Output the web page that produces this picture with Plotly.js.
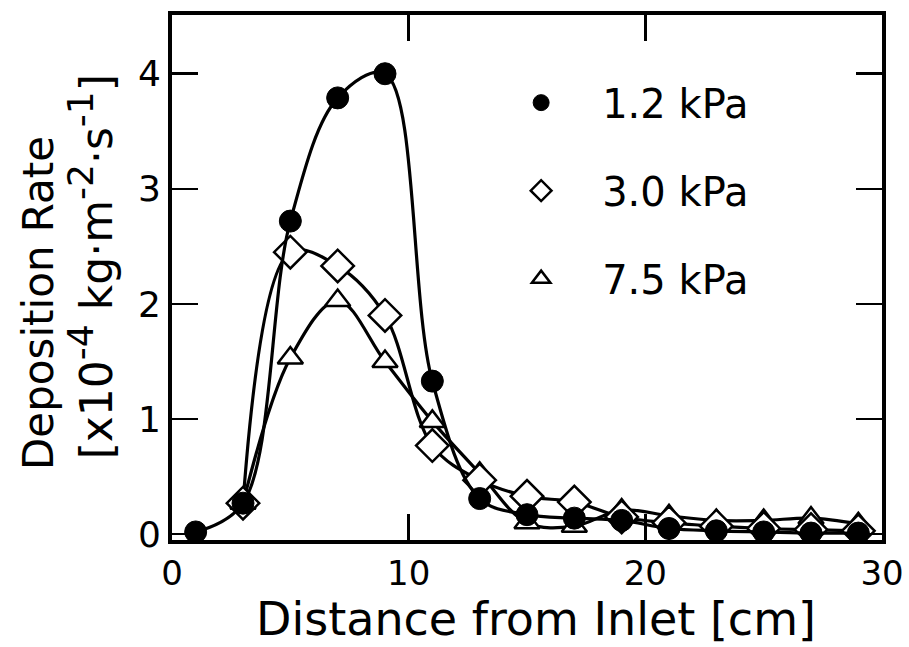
<!DOCTYPE html>
<html>
<head>
<meta charset="utf-8">
<script src="https://cdn.plot.ly/plotly-3.0.1.min.js"></script>
<style>html,body{margin:0;padding:0;background:#fff;}#chart{width:909px;height:647px;}</style>
</head>
<body>
<div id="chart"></div>
<script>
const xLow = [1, 3, 5, 7, 9, 11, 13, 15, 17, 19, 21, 23, 25, 27, 29];
const rate12 = [0.02, 0.27, 2.72, 3.79, 4.0, 1.33, 0.31, 0.17, 0.14, 0.12, 0.05, 0.03, 0.02, 0.01, 0.01];
const xMid = [3, 5, 7, 9, 11, 13, 15, 17, 19, 21, 23, 25, 27, 29];
const rate30 = [0.27, 2.45, 2.33, 1.9, 0.77, 0.47, 0.33, 0.28, 0.15, 0.1, 0.07, 0.05, 0.04, 0.03];
const rate75 = [0.27, 1.53, 2.03, 1.5, 0.98, 0.53, 0.1, 0.07, 0.21, 0.16, 0.12, 0.12, 0.14, 0.09];
const seriesNames = ['1.2 kPa', '3.0 kPa', '7.5 kPa'];
const xTicks = [0, 10, 20, 30];
const yTicks = [0, 1, 2, 3, 4];
const yTitle1 = 'Deposition Rate';
const sup = s => '<sup><span style="font-size:36px">' + s + '</span></sup>';
const yTitle2 = '[x10' + sup('-4') + ' kg·m' + sup('-2') + '·s' + sup('-1') + ']';
const xTitle = 'Distance from Inlet [cm]';

const FONT = 'DejaVu Sans, Verdana, sans-serif';
const lineStyle = {color: '#000', width: 3.2, shape: 'spline', smoothing: 1};

const mk = {
  circle: {symbol: 'circle', size: 22, color: '#000', line: {color: '#000', width: 1}},
  diamond: {symbol: 'diamond', size: 25, color: '#fff', line: {color: '#000', width: 2.5}},
  triangle: {symbol: 'triangle-up', size: 22, color: '#fff', line: {color: '#000', width: 2.5}}
};

const traces = [
  {x: xMid, y: rate75, mode: 'lines+markers', showlegend: false, line: lineStyle, marker: mk.triangle},
  {x: xMid, y: rate30, mode: 'lines+markers', showlegend: false, line: lineStyle, marker: mk.diamond},
  {x: xLow, y: rate12, mode: 'lines+markers', showlegend: false, line: lineStyle, marker: mk.circle},
  // legend entries (markers only, as in the reference legend)
  {x: [null], y: [null], name: seriesNames[0], mode: 'markers', legendgroup: 'a', marker: mk.circle},
  {x: [null], y: [null], name: seriesNames[1], mode: 'markers', legendgroup: 'b', marker: mk.diamond},
  {x: [null], y: [null], name: seriesNames[2], mode: 'markers', legendgroup: 'c', marker: mk.triangle}
];

const layout = {
  width: 909, height: 647,
  paper_bgcolor: '#fff', plot_bgcolor: '#fff',
  margin: {l: 172, r: 27, t: 15, b: 107},
  font: {family: FONT, color: '#000', size: 30},
  showlegend: true,
  legend: {x: 0.434, y: 0.895, xanchor: 'left', yanchor: 'top', bgcolor: 'rgba(0,0,0,0)',
           font: {family: FONT, size: 40, color: '#000'}, traceorder: 'grouped', tracegroupgap: 33,
           itemwidth: 112, itemsizing: 'trace'},
  xaxis: {range: [0, 30], tickvals: xTicks, ticktext: xTicks.map(String), ticks: 'inside', ticklen: 26, tickwidth: 2.5,
          tickcolor: '#000', showline: true, linewidth: 4, linecolor: '#000', mirror: 'ticks', showgrid: false, zeroline: false,
          tickfont: {family: FONT, size: 34}},
  yaxis: {range: [-0.05, 4.51], tickvals: yTicks, ticktext: yTicks.map(String), ticks: 'inside', ticklen: 26, tickwidth: 2.5,
          tickcolor: '#000', showline: true, linewidth: 4, linecolor: '#000', mirror: 'ticks', showgrid: false, zeroline: false,
          tickfont: {family: FONT, size: 36}},
  annotations: [
    {text: xTitle, xref: 'paper', yref: 'paper', x: 0.513, y: -0.151, xanchor: 'center', yanchor: 'middle',
     showarrow: false, font: {family: FONT, size: 46, color: '#000'}},
    {text: yTitle1, xref: 'paper', yref: 'paper', x: -0.189, y: 0.451, xanchor: 'center', yanchor: 'middle',
     textangle: -90, showarrow: false, font: {family: FONT, size: 42, color: '#000'}},
    {text: yTitle2, xref: 'paper', yref: 'paper', x: -0.115, y: 0.52, xanchor: 'center', yanchor: 'middle',
     textangle: -90, showarrow: false, font: {family: FONT, size: 44, color: '#000'}}
  ]
};

Plotly.newPlot('chart', traces, layout, {displayModeBar: false, staticPlot: true});
</script>
</body>
</html>
